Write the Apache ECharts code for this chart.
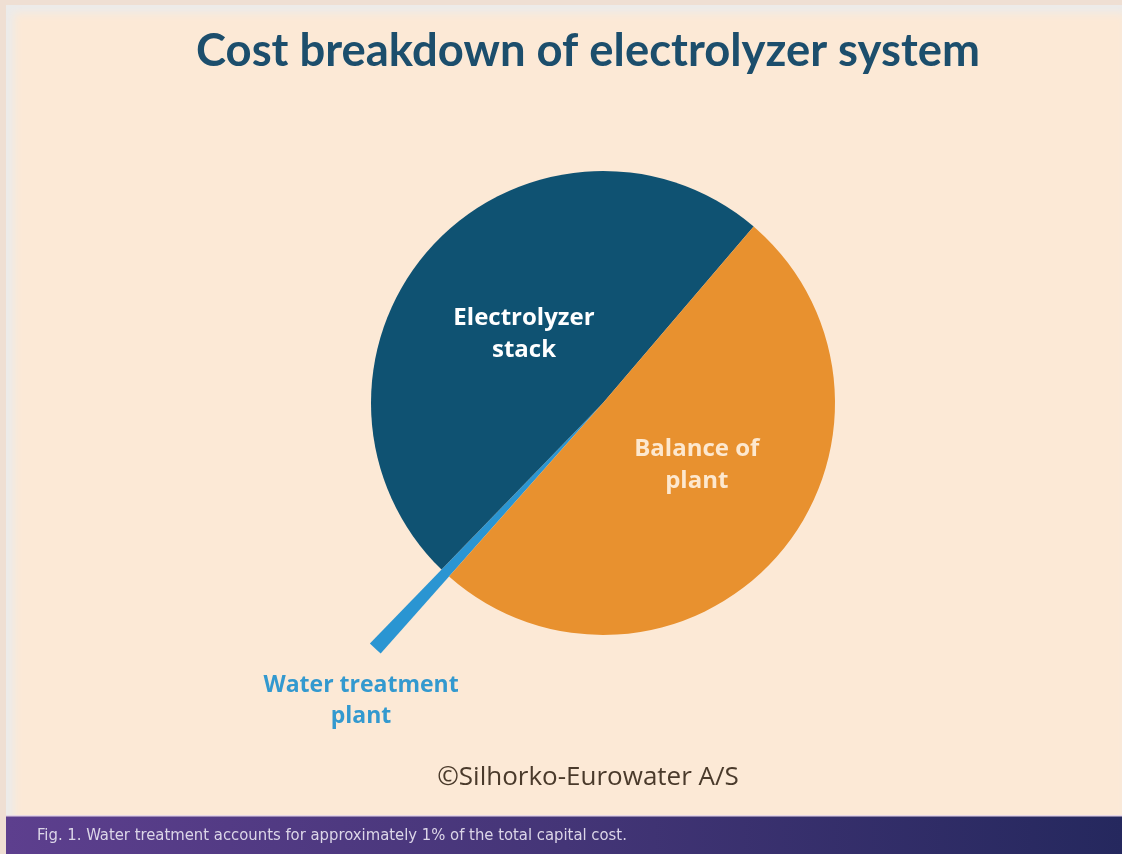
<!DOCTYPE html>
<html>
<head>
<meta charset="utf-8">
<script src="https://cdn.jsdelivr.net/npm/echarts@6/dist/echarts.min.js"></script>
<style>
  html, body { margin: 0; padding: 0; width: 1122px; height: 854px; overflow: hidden; background: #efdfd3; }
  #frame { position: absolute; left: 6px; top: 5px; width: 1116px; height: 849px; background: #fce9d6;
           box-shadow: inset 6px 6px 8px 2px #ecebea; }
  #chart { position: absolute; left: 0; top: 0; width: 1122px; height: 854px; }
</style>
</head>
<body>
<div id="frame"></div>
<div id="chart"></div>
<script>
// ---- data ----
const categories = ['Electrolyzer stack', 'Water treatment plant', 'Balance of plant'];
const labelTexts = ['Electrolyzer\nstack', 'Water treatment\nplant', 'Balance of\nplant'];
const shares = [49, 0.7, 50.3];            // % of total capital cost
const titleText = 'Cost breakdown of electrolyzer system';
const creditText = '\u00A9Silhorko-Eurowater A/S';
const captionText = 'Fig. 1. Water treatment accounts for approximately 1% of the total capital cost.';

const colors = ['#0f5272', '#2a95d2', '#e8912f'];
const labelColors = ['#ffffff', '#3399cf', '#fde8cf'];

const chart = echarts.init(document.getElementById('chart'), null, { renderer: 'canvas' });

const mainData = categories.map((c, i) => ({
  name: c, value: shares[i],
  itemStyle: { color: i === 1 ? 'rgba(0,0,0,0)' : colors[i] },
  label: i === 1 ? { show: false } : {
    show: true, position: 'inside', formatter: labelTexts[i],
    color: labelColors[i], fontFamily: 'Open Sans', fontWeight: 'bold', fontSize: 24, lineHeight: 32,
    offset: i === 0 ? [9, 11] : [4, -16]
  }
}));

const wedgeData = categories.map((c, i) => ({
  name: c, value: shares[i],
  itemStyle: { color: i === 1 ? colors[i] : 'rgba(0,0,0,0)' },
  label: i === 1 ? {
    show: true, position: 'inside', formatter: labelTexts[i],
    color: labelColors[i], fontFamily: 'Open Sans', fontWeight: 'bold', fontSize: 23, lineHeight: 31,
    offset: [-126, 173]
  } : { show: false }
}));

chart.setOption({
  backgroundColor: 'transparent',
  animation: false,
  graphic: [
    { type: 'text', z: 10,
      style: { text: titleText, fill: '#1c4e6c', font: 'bold 45.4px Lato', textAlign: 'center', textVerticalAlign: 'middle' },
      position: [588, 51] },
    { type: 'text', z: 10,
      style: { text: creditText, fill: '#4a3a2b', font: '26px "Open Sans"', textAlign: 'center', textVerticalAlign: 'middle' },
      position: [588, 778] },
    { type: 'rect', z: 5, shape: { x: 6, y: 816, width: 1116, height: 38 },
      style: { fill: new echarts.graphic.LinearGradient(0, 0, 1, 0, [
        { offset: 0, color: '#5d3f8e' }, { offset: 0.5, color: '#443577' }, { offset: 1, color: '#25285e' }]) } },
    { type: 'rect', z: 5, shape: { x: 6, y: 815, width: 1116, height: 1.5 }, style: { fill: '#e6d6e6' } },
    { type: 'text', z: 10,
      style: { text: captionText, fill: '#dcd6e8', font: '16.5px "DejaVu Sans Condensed", "Liberation Sans Narrow", sans-serif', textAlign: 'left', textVerticalAlign: 'middle' },
      position: [37, 836] }
  ],
  series: [
    {
      type: 'pie', silent: true, z: 2,
      center: [603, 403], radius: [0, 335],
      startAngle: 49.5, clockwise: false,
      itemStyle: { borderWidth: 0 },
      labelLine: { show: false },
      data: wedgeData
    },
    {
      type: 'pie', silent: true, z: 3,
      center: [603, 403], radius: [0, 232],
      startAngle: 49.5, clockwise: false,
      itemStyle: { borderWidth: 0 },
      labelLine: { show: false },
      data: mainData
    }
  ]
});
</script>
</body>
</html>
